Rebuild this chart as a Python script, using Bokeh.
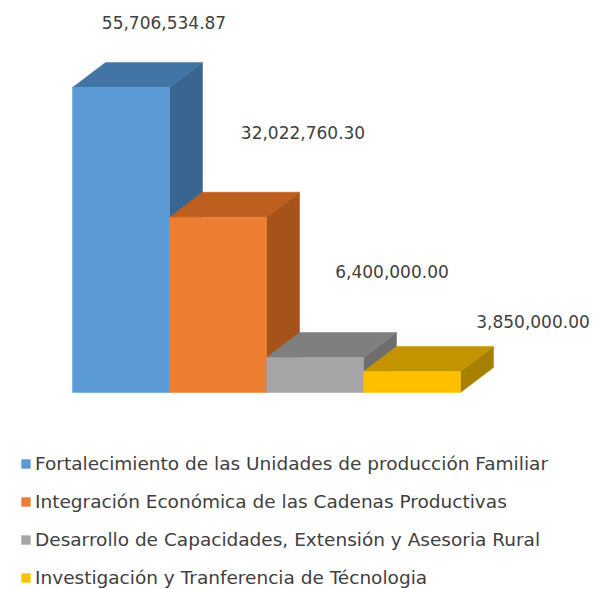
from bokeh.plotting import figure
from bokeh.models import Range1d, ColumnDataSource, Legend, LegendItem
from bokeh.core.properties import value
from bokeh.embed import file_html
from bokeh.resources import INLINE

categories = [
    "Fortalecimiento de las Unidades de producción Familiar",
    "Integración Económica de las Cadenas Productivas",
    "Desarrollo de Capacidades, Extensión y Asesoria Rural",
    "Investigación y Tranferencia de Técnologia",
]
values = [55706534.87, 32022760.30, 6400000.00, 3850000.00]

front_colors = ["#5B9BD5", "#ED7D31", "#A5A5A5", "#FFC000"]
top_colors = ["#4275A6", "#BF5F1F", "#7F7F7F", "#C49300"]
side_colors = ["#3A6590", "#A5521B", "#6E6E6E", "#A88000"]

# label pixel offsets (layout only)
label_dx = [10, 52, 44, 88]
label_dy = [-40, -60, -61, -25]

W, H = 601, 589
x_start, x_end = -1.2423, 4.9536
y_start, y_end = -35.98e6, 71.60e6
kx = W / (x_end - x_start)
ky = H / (y_end - y_start)
dx = 33 / kx
dy = 25 / ky

p = figure(width=W, height=H, output_backend="svg", toolbar_location=None,
           x_range=Range1d(x_start, x_end), y_range=Range1d(y_start, y_end),
           min_border=0)
p.axis.visible = False
p.grid.visible = False
p.outline_line_color = None
p.background_fill_color = "white"
p.border_fill_color = "white"

items = []
for i, v in enumerate(values):
    xl, xr = i - 0.5, i + 0.5
    p.patch([xr, xr + dx, xr + dx, xr], [0, dy, v + dy, v],
            fill_color=side_colors[i], line_color=side_colors[i], line_width=0.5)
    p.patch([xl, xr, xr + dx, xl + dx], [v, v, v + dy, v + dy],
            fill_color=top_colors[i], line_color=top_colors[i], line_width=0.5)
    r = p.vbar(x=[i], width=1.0, bottom=0, top=[v],
               fill_color=front_colors[i], line_color=front_colors[i], line_width=0.5)
    items.append(LegendItem(label=categories[i], renderers=[r]))

src = ColumnDataSource(dict(
    x=[i + dx for i in range(len(values))],
    y=[v + dy for v in values],
    t=[f"{v:,.2f}" for v in values],
    xo=label_dx, yo=label_dy,
))
p.text(x="x", y="y", text="t", x_offset="xo", y_offset="yo", source=src,
       text_align="center", text_baseline="middle",
       text_font_size="17px", text_color="#404040", text_font=value("DejaVu Sans"))

legend = Legend(items=items, location=(20, 1), orientation="vertical",
                glyph_width=11, glyph_height=11, label_height=22, spacing=16,
                label_standoff=4, padding=0, margin=0,
                label_text_font="DejaVu Sans", label_text_font_size="18.5px",
                label_text_color="#404040",
                border_line_color=None, background_fill_alpha=0)
p.add_layout(legend, "center")

open("out.html", "w").write(file_html(p, INLINE))
